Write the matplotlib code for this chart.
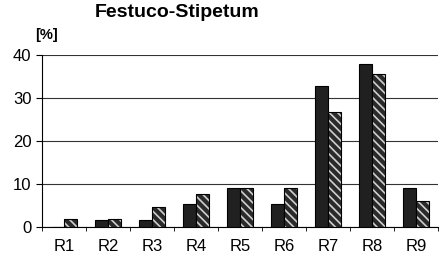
import numpy as np
import matplotlib.pyplot as plt

plt.rcParams['font.family'] = ['Liberation Sans', 'DejaVu Sans']
plt.rcParams['hatch.linewidth'] = 1.2

categories = ['R1', 'R2', 'R3', 'R4', 'R5', 'R6', 'R7', 'R8', 'R9']
series_dark = [0, 1.6, 1.6, 5.4, 9.1, 5.4, 32.8, 37.8, 9.0]
series_hatch = [1.7, 1.7, 4.7, 7.6, 9.1, 9.1, 26.7, 35.5, 6.1]

fig = plt.figure(figsize=(4.44, 2.63), dpi=100)
ax = fig.add_axes([0.094, 0.138, 0.893, 0.653])

x = np.arange(len(categories))
w = 0.3

ax.bar(x - w / 2, series_dark, w, color='#202020', edgecolor='black', linewidth=0.8, zorder=3)
# hatched bars: light hatch on dark fill, then a black outline on top
ax.bar(x + w / 2, series_hatch, w, color='#2a2a2a', edgecolor='#d0d0d0', hatch='\\\\\\\\',
       linewidth=0, zorder=3)
ax.bar(x + w / 2, series_hatch, w, fill=False, edgecolor='black', linewidth=0.8, zorder=4)

ax.set_xlim(-0.5, len(categories) - 0.5)
ax.set_ylim(0, 40)
ax.set_yticks([0, 10, 20, 30, 40])
ax.yaxis.grid(True, color='#333333', linewidth=0.8)
ax.set_axisbelow(True)

ax.set_xticks(x)
ax.set_xticklabels(categories, fontsize=12)
ax.tick_params(axis='x', length=0, pad=9)
ax.set_xticks(np.arange(len(categories) + 1) - 0.5, minor=True)
ax.tick_params(axis='x', which='minor', length=3, direction='out')
ax.tick_params(axis='y', labelsize=12, length=4, width=0.8)

for s in ['top', 'right']:
    ax.spines[s].set_visible(False)
ax.spines['left'].set_linewidth(0.8)
ax.spines['bottom'].set_linewidth(0.8)

fig.text(0.40, 0.952, 'Festuco-Stipetum', fontsize=14, fontweight='bold', ha='center', va='center')
fig.text(0.08, 0.866, '[%]', fontsize=10.5, fontweight='bold', ha='left', va='center')

fig.savefig('out.png', dpi=100)
